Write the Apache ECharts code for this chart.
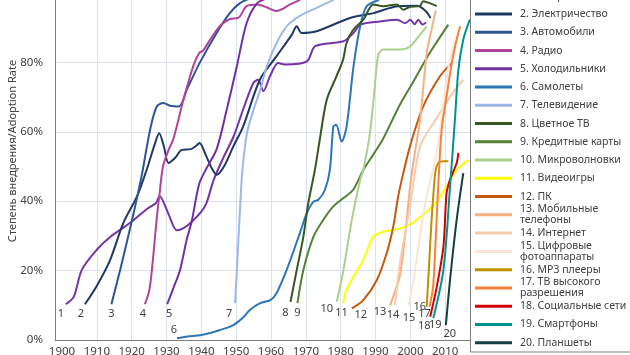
<!DOCTYPE html>
<html><head><meta charset="utf-8">
<script src="https://cdn.jsdelivr.net/npm/echarts@6/dist/echarts.min.js"></script>
<style>html,body{margin:0;padding:0;background:#fff;}#c{width:630px;height:355px;}</style>
</head><body><div id="c"></div>
<script>
const names = ['1. Телефон','2. Электричество','3. Автомобили','4. Радио','5. Холодильники','6. Самолеты','7. Телевидение','8. Цветное ТВ','9. Кредитные карты','10. Микроволновки','11. Видеоигры','12. ПК','13. Мобильные телефоны','14. Интернет','15. Цифровые фотоаппараты','16. MP3 плееры','17. ТВ высокого разрешения','18. Социальные сети','19. Смартфоны','20. Планшеты'];
const legendText = ['1. Телефон','2. Электричество','3. Автомобили','4. Радио','5. Холодильники','6. Самолеты','7. Телевидение','8. Цветное ТВ','9. Кредитные карты','10. Микроволновки','11. Видеоигры','12. ПК','13. Мобильные\nтелефоны','14. Интернет','15. Цифровые\nфотоаппараты','16. MP3 плееры','17. ТВ высокого\nразрешения','18. Социальные сети','19. Смартфоны','20. Планшеты'];
const xTickLabels = [1900,1910,1920,1930,1940,1950,1960,1970,1980,1990,2000,2010];
const xGridValues = [1910,1920,1930,1940,1950,1960,1970,1980,1990,2000,2010];

const years1 = [1901.1,1903.4,1905.7,1910,1914,1919.5,1924.3,1927,1928,1930.5,1933,1935,1937.2,1940,1941.5,1943.5,1946.3,1949.2,1952,1954.9,1956.3,1957.8,1959.7,1962.1,1964,1970.3,1972.7,1980.8,1983.7,1985.7,1991.4,1996.2,1998.5,2000,2001.2,2002.3,2003.5,2004.5];
const vals1  = [10.3,12.5,20.2,26,29.8,33.7,37.7,39.5,41.5,36.5,31.6,32.3,34,37,39.5,46,52.5,58.5,66.4,74,75,71.7,76,79.8,79.4,80.3,84.7,86.1,88.5,90.9,91.8,92.3,91.3,92.3,91,92.3,90.9,91.5];
const years2 = [1906.6,1909.9,1913.8,1917.6,1921.5,1924.3,1926.5,1927.9,1929.2,1930.6,1932.5,1934.4,1937,1938.8,1939.5,1941.2,1943,1944.4,1946.5,1949.2,1952,1956.8,1961.6,1966,1967.4,1968.8,1973.1,1982.7,1989.4,1996.5,2001.9,2004.5,2005.8];
const vals2  = [10.3,15.4,23,33.7,41.3,49,56,59.6,56,51,52.5,54.8,55,56.2,56.8,53.5,49.5,47.6,50,55.8,61.5,75,81.8,88,90.4,88.5,89,92.8,94.2,96.2,96.3,94.7,92.8];
const years3 = [1914.2,1916.7,1919,1921,1923,1925.3,1927.2,1929.1,1931,1933.5,1936,1939.6,1944.4,1948,1951,1954];
const vals3  = [10.3,20.2,29.8,38.5,48,60.6,67.3,68.3,67.5,67.3,72.5,80,88.5,94,97,98.5];
const years4 = [1923.8,1925,1925.8,1927.2,1928,1929,1930.5,1932,1934.8,1937.7,1939.4,1940.5,1942.5,1945.3,1948.2,1950.6,1953,1956,1958.7,1961.6,1963.5,1965.5,1968.4];
const vals4  = [10.3,14,20,35,42,50,54.5,58,69,79,82.7,83.4,86.5,90.4,92.5,92.8,96.2,96.7,95.9,94.8,95.5,96.7,98];
const years5 = [1930.2,1932,1933.9,1935.8,1937.2,1939.4,1941.5,1944.4,1947.3,1950.2,1953,1956,1959,1963];
const vals5  = [10.3,15,20.2,28.9,34,45,49.5,55,66.4,78.9,91.3,97,98.5,99.5];
const years6 = [1933,1936,1939.7,1942.5,1945.4,1949.2,1952,1954,1956.9,1959.8,1961.6,1964.5,1968.3,1970.3,1972.2,1973.6,1975.5,1976.9,1977.9,1978.7,1980.3,1981.7,1983.7,1985.6,1987.5,1991];
const vals6  = [0.5,1,1.4,2,2.9,4.3,6.5,8.7,10.6,11.5,13.5,20.2,30.8,36.6,39.9,40.4,43.3,49,61.5,62,57.2,61.5,78.9,90.4,96.2,98];
const years7 = [1949.7,1950.2,1950.7,1951.2,1951.8,1953.1,1955,1956.9,1958.8,1961.6,1964.5,1968.3,1973.1,1978];
const vals7  = [10.6,20.2,29.8,39.4,49,59.6,66.4,72,78.9,85.6,90.4,93.4,95.7,98];
const years8 = [1965.6,1967.4,1969.3,1970.7,1972.6,1974,1976,1978.8,1980.7,1981.7,1983.6,1986.5,1989.4,1992.2,1996.1,1998,2000,2002.8,2003.7,2005.7,2007.6];
const vals8  = [11,20.2,29.8,39.4,49,57.7,69.2,76,80.8,85.6,89.4,92.3,96.7,96.2,96.7,95.2,96,96.3,97.6,97,96.2];
const years9 = [1967.6,1969.3,1972.2,1975,1977.9,1980.8,1983.6,1986.5,1989.4,1992.2,1997,2000.9,2004.7,2008,2010.9];
const vals9  = [10.6,20.2,29.8,34.6,38.5,40.9,43.3,49,53.5,58,67.8,74.5,81.3,86.5,90.9];
const years10 = [1978.9,1980.8,1983.2,1985.6,1986.5,1988.4,1989.9,1990.8,1992.2,1997,1999.9,2002.8,2004.7];
const vals10  = [11,20.2,34.6,46.2,49,59.6,74,82.2,83.7,83.7,84.6,88,90.4];
const years11 = [1980.8,1981.3,1983.7,1986.5,1989.4,1992.2,1996.1,2000,2003.7,2007.6,2010.4,2013.3,2016.7];
const vals11  = [10.6,13.5,18.3,23.1,29.8,31.2,31.9,33.4,36.1,39.9,44.2,49,51.9];
const years12 = [1983.2,1986.5,1990.4,1993.2,1995.1,1996.5,1997.5,1999.9,2003.7,2008.5,2011.9];
const vals12  = [9.1,11.5,17.3,25,32.7,41.3,46,55.8,67.3,76,79.8];
const years13 = [1994.2,1995.6,1997,1998.5,1999.9,2001.3,2002.8,2004.7,2006,2007.3];
const vals13  = [10,14,18.5,30,44,54,63.5,82.7,89,95];
const years14 = [1995.6,1997,1999.9,2002.8,2006.6,2009.5,2012,2015.2];
const vals14  = [10,22,38.5,55.8,62.5,67,71,75];
const years15 = [1999.6,2001,2002.5,2004,2006,2007.6,2009.5,2011,2012.7];
const vals15  = [10,18,28,38,47,54,68,79,86];
const years16 = [2004.7,2005.4,2006.1,2006.7,2007.2,2008,2009.5,2010.9];
const vals16  = [9.6,22,34.6,43,48.5,51,51.5,51.5];
const years17 = [2005.5,2006.5,2007.1,2008,2009,2010.4,2011.9,2013.3,2014.3];
const vals17  = [9.5,15,25,44.2,60.6,70.2,79.8,86.6,90.4];
const years18 = [2005.7,2007.6,2009.5,2010.4,2011.4,2013.3,2013.8];
const vals18  = [6.7,15.4,26.9,42.3,46.2,51,53.9];
const years19 = [2006.6,2009.5,2011.4,2012.8,2013.8,2015.2,2017.1];
const vals19  = [6.3,20.2,44.2,63.5,77.9,86.6,92.3];
const years20 = [2010.2,2011.4,2013.3,2015.2];
const vals20  = [4.3,17.3,34.6,48.1];

const allYears = [years1,years2,years3,years4,years5,years6,years7,years8,years9,years10,years11,years12,years13,years14,years15,years16,years17,years18,years19,years20];
const allVals = [vals1,vals2,vals3,vals4,vals5,vals6,vals7,vals8,vals9,vals10,vals11,vals12,vals13,vals14,vals15,vals16,vals17,vals18,vals19,vals20];

const colors = ['#7434A8','#203864','#2F5597','#B0449C','#7030A0','#2E75B6','#9DB8E6','#385723','#548235','#A9D18E','#FFFF00','#C55A11','#F4B183','#F8CBAD','#FBE5D6','#BF9000','#F5813A','#D40000','#009490','#163F3F'];
const labelOffsets = [[-5,10],[-4,10],[0,10],[-2,10],[2,10],[-3,-8],[-6,11],[-5,11],[0,10],[-10,7],[-2,10],[9,6],[-10,7],[-2,10],[0,13],[-7,0],[-5,7],[-6,9],[2,7],[4,9]];

const FONT = 'Noto Sans';
const series = allYears.map((ys, i) => ({
  name: names[i],
  type: 'line',
  smooth: 0.3,
  symbol: 'circle',
  symbolSize: 0,
  showSymbol: true,
  lineStyle: {color: colors[i], width: 2},
  itemStyle: {color: colors[i]},
  label: {show: false},
  z: 2,
  data: ys.map((y, j) => j === 0 ? {
    value: [y, allVals[i][j]],
    label: {show: true, position: 'inside', offset: labelOffsets[i], formatter: String(i + 1), color: '#404040', fontSize: 11, fontFamily: FONT}
  } : [y, allVals[i][j]])
}));

const legends = names.map((n, i) => {
  const lines = legendText[i].split('\n').length;
  const lh = 11;
  const cy = 14 + (i - 1) * 18.26;
  return {
    data: [n], orient: 'vertical', left: 475, top: cy - lines * lh / 2, padding: 0,
    icon: 'rect', itemWidth: 37, itemHeight: 3, z: 20, selectedMode: false,
    formatter: () => legendText[i],
    textStyle: {fontFamily: FONT, fontSize: 10.5, color: '#404040', lineHeight: lh, padding: [0,0,0,3]}
  };
});

const chart = echarts.init(document.getElementById('c'), null, {renderer: 'canvas'});
chart.setOption({
  animation: false,
  backgroundColor: '#fff',
  grid: {left: 55, right: 150, top: -7, bottom: 15, containLabel: false, outerBoundsMode: 'none'},
  xAxis: {
    type: 'value', min: 1898, max: 2020,
    axisLine: {show: true, lineStyle: {color: '#7F7F7F', width: 1}},
    axisTick: {show: false, customValues: xGridValues},
    axisLabel: {customValues: xTickLabels, formatter: v => String(v), color: '#404040', fontSize: 11.5, fontFamily: FONT, margin: 6},
    splitLine: {show: true, lineStyle: {color: '#D9E1F2', width: 1}}
  },
  yAxis: {
    type: 'value', min: 0, max: 100, interval: 20,
    name: 'Степень внедрения/Adoption Rate', nameLocation: 'middle', nameGap: 37, nameMoveOverlap: false,
    nameTextStyle: {color: '#404040', fontSize: 11, fontFamily: FONT, padding: [0,0,0,31]},
    axisLine: {show: true, lineStyle: {color: '#7F7F7F', width: 1}},
    axisTick: {show: false},
    axisLabel: {formatter: '{value}%', color: '#404040', fontSize: 11.5, fontFamily: FONT, margin: 12},
    splitLine: {show: true, lineStyle: {color: '#D9E1F2', width: 1}}
  },
  legend: legends,
  graphic: [{type: 'rect', z: 10, shape: {x: 470.5, y: -5, width: 200, height: 357}, style: {fill: '#fff', stroke: '#7F7F7F', lineWidth: 1}}],
  series: series
});
</script></body></html>
